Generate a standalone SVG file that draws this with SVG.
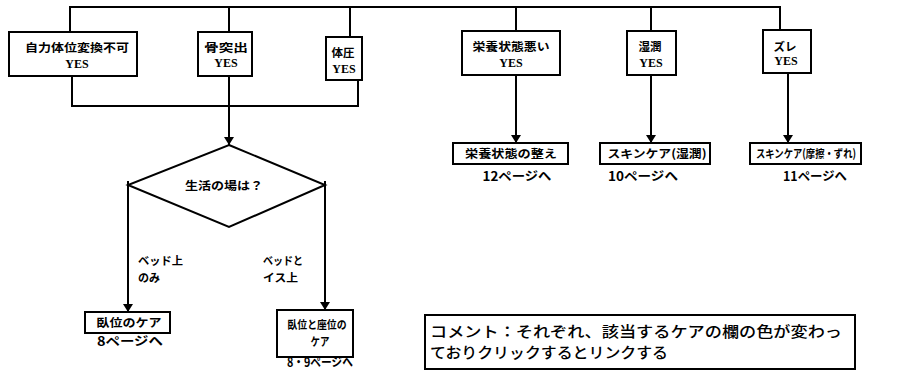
<svg xmlns="http://www.w3.org/2000/svg" width="904" height="371" viewBox="0 0 904 371">
<style>
.bg{fill:#fff}
.box{fill:#fff;stroke:#000;stroke-width:2}
.ln{fill:none;stroke:#000;stroke-width:2}
.arr{fill:none;stroke:#000;stroke-width:2;marker-end:url(#ah)}
.t{font-family:"Noto Sans CJK JP","Noto Sans",sans-serif;font-weight:bold;font-size:11.5px;fill:#000;text-anchor:middle}
.y{font-family:"Liberation Serif",serif;font-weight:bold;font-size:12px;fill:#000;text-anchor:middle}
.p{font-family:"Noto Sans CJK JP","Noto Sans",sans-serif;font-weight:bold;font-size:12.5px;fill:#000;text-anchor:middle}
.l{font-family:"Noto Sans CJK JP","Noto Sans",sans-serif;font-weight:bold;font-size:11px;fill:#000}
.c{font-family:"Noto Sans CJK JP","Noto Sans",sans-serif;font-weight:500;font-size:15px;fill:#000}
</style>
<defs>
<marker id="ah" viewBox="0 0 8 10" refX="8" refY="5" markerWidth="4" markerHeight="5" markerUnits="strokeWidth" orient="auto">
<path d="M0,0 L8,5 L0,10 Z" fill="#000"/>
</marker>
</defs>
<rect class="bg" width="904" height="371"/>
<g id="connectors">
<polyline class="ln" points="70,32 70,7 780,7 780,30"/>
<line class="ln" x1="229" y1="7" x2="229" y2="32"/>
<line class="ln" x1="350" y1="7" x2="350" y2="37"/>
<line class="ln" x1="516" y1="7" x2="516" y2="31"/>
<line class="ln" x1="651" y1="7" x2="651" y2="31"/>
<polyline class="ln" points="72,76 72,106 358,106 358,80"/>
<line class="arr" x1="229" y1="76" x2="229" y2="145"/>
<line class="arr" x1="516" y1="75" x2="516" y2="143"/>
<line class="arr" x1="651" y1="75" x2="651" y2="143"/>
<line class="arr" x1="788" y1="73" x2="788" y2="143"/>
<line class="arr" x1="128" y1="181" x2="128" y2="312"/>
<line class="arr" x1="325" y1="181" x2="325" y2="310"/>
</g>
<g id="n-jiriki"><rect class="box" x="9" y="32" width="128" height="44"/><text class="t" x="77" y="52" textLength="104" lengthAdjust="spacingAndGlyphs">自力体位変換不可</text><text class="y" x="77" y="68">YES</text></g>
<g id="n-kotsu"><rect class="box" x="198" y="32" width="54" height="44"/><text class="t" x="226" y="52" textLength="44" lengthAdjust="spacingAndGlyphs">骨突出</text><text class="y" x="226" y="67">YES</text></g>
<g id="n-taiatsu"><rect class="box" x="326" y="37" width="36" height="43"/><text class="t" x="343" y="57">体圧</text><text class="y" x="344" y="73">YES</text></g>
<g id="n-eiyou"><rect class="box" x="462" y="31" width="98" height="44"/><text class="t" x="511" y="51" textLength="77" lengthAdjust="spacingAndGlyphs">栄養状態悪い</text><text class="y" x="511" y="67">YES</text></g>
<g id="n-shitsujun"><rect class="box" x="627" y="31" width="49" height="44"/><text class="t" x="650" y="51">湿潤</text><text class="y" x="651" y="67">YES</text></g>
<g id="n-zure"><rect class="box" x="763" y="30" width="48" height="43"/><text class="t" x="785" y="51">ズレ</text><text class="y" x="786" y="65">YES</text></g>
<g id="n-diamond"><polygon class="box" points="229,145 325,185 229,227 128,185"/><text class="t" x="224" y="190" textLength="78" lengthAdjust="spacingAndGlyphs">生活の場は？</text></g>
<g id="lbl-bed"><text class="l" x="138" y="265" textLength="45" lengthAdjust="spacingAndGlyphs">ベッド上</text><text class="l" x="138" y="282">のみ</text></g>
<g id="lbl-bedchair"><text class="l" x="263" y="265" textLength="40" lengthAdjust="spacingAndGlyphs">ベッドと</text><text class="l" x="263" y="282" textLength="35" lengthAdjust="spacingAndGlyphs">イス上</text></g>
<g id="n-gaicare"><rect class="box" x="85" y="312" width="85" height="21"/><text class="t" x="129" y="327" textLength="65" lengthAdjust="spacingAndGlyphs">臥位のケア</text><text class="p" x="130" y="346" textLength="66" lengthAdjust="spacingAndGlyphs">8ページへ</text></g>
<g id="n-gaizaicare"><rect class="box" x="277" y="310" width="76" height="47"/><text class="t" x="317" y="329" textLength="59" lengthAdjust="spacingAndGlyphs">臥位と座位の</text><text class="t" x="320" y="346" textLength="19" lengthAdjust="spacingAndGlyphs">ケア</text><text class="p" x="320" y="367" font-size="11" textLength="66" lengthAdjust="spacingAndGlyphs">8・9ページへ</text></g>
<g id="n-eiyoucare"><rect class="box" x="453" y="143" width="115" height="21"/><text class="t" x="511" y="158" textLength="92" lengthAdjust="spacingAndGlyphs">栄養状態の整え</text><text class="p" x="517" y="181" textLength="69" lengthAdjust="spacingAndGlyphs">12ページへ</text></g>
<g id="n-skin1"><rect class="box" x="600" y="143" width="110" height="21"/><text class="t" x="657" y="158" textLength="99" lengthAdjust="spacingAndGlyphs">スキンケア(湿潤)</text><text class="p" x="643" y="181" textLength="70" lengthAdjust="spacingAndGlyphs">10ページへ</text></g>
<g id="n-skin2"><rect class="box" x="750" y="143" width="111" height="21"/><text class="t" x="806" y="158" textLength="100" lengthAdjust="spacingAndGlyphs">スキンケア(摩擦・ずれ)</text><text class="p" x="815" y="181" textLength="64" lengthAdjust="spacingAndGlyphs">11ページへ</text></g>
<g id="n-comment"><rect class="box" x="425" y="315" width="430" height="54"/><text class="c" x="430" y="337" textLength="412" lengthAdjust="spacingAndGlyphs">コメント：それぞれ、該当するケアの欄の色が変わっ</text><text class="c" x="430" y="358" textLength="238" lengthAdjust="spacingAndGlyphs">ておりクリックするとリンクする</text></g>
</svg>
